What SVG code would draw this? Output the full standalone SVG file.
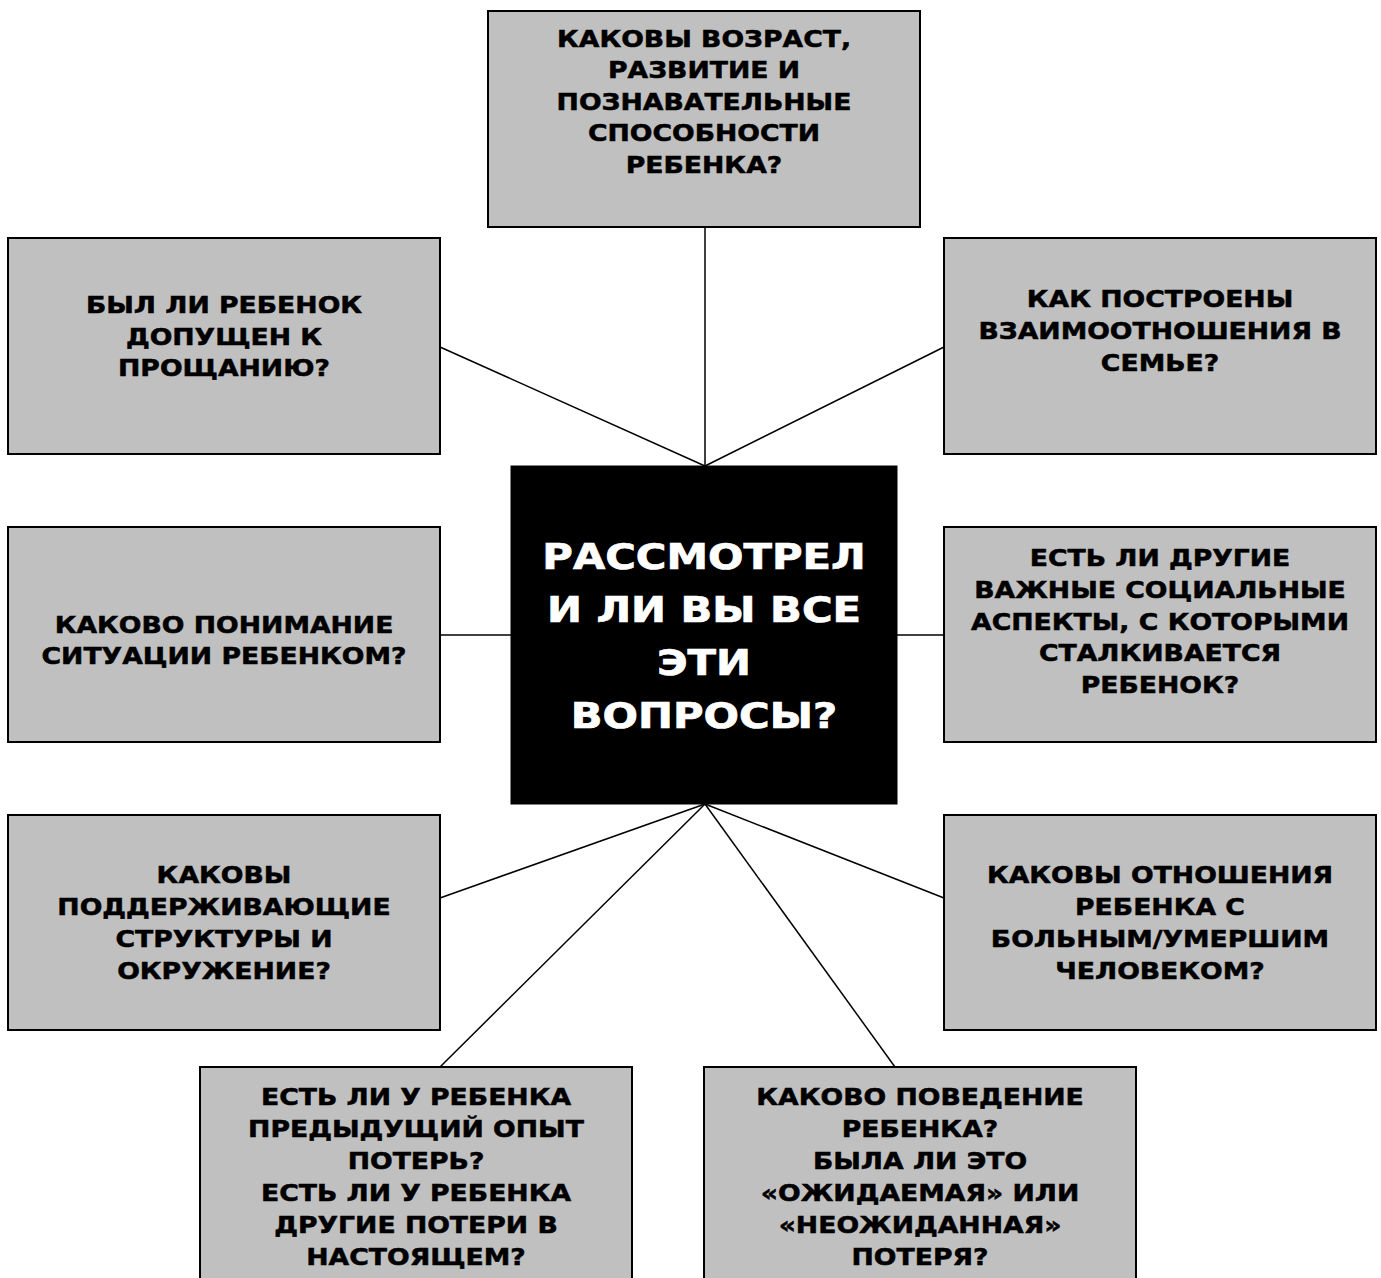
<svg xmlns="http://www.w3.org/2000/svg" width="1381" height="1278" viewBox="0 0 1381 1278">
<style>
.box{fill:#c0c0c0;stroke:#000;stroke-width:2}
.core{fill:#000;stroke:#000;stroke-width:1}
.t{font-family:"DejaVu Sans","Verdana",sans-serif;font-weight:bold;font-size:23px;fill:#000;stroke:#000;stroke-width:0.5;text-anchor:middle}
.c{font-family:"DejaVu Sans","Verdana",sans-serif;font-weight:bold;font-size:36px;fill:#fff;stroke:#fff;stroke-width:0.7;text-anchor:middle}
.ln{stroke:#000;stroke-width:1.5;fill:none}
</style>
<rect width="1381" height="1278" fill="#fff"/>
<g id="connectors">
<line class="ln" x1="705" y1="466" x2="705" y2="227"/>
<line class="ln" x1="705" y1="466" x2="440" y2="347"/>
<line class="ln" x1="705" y1="466" x2="944" y2="347"/>
<line class="ln" x1="440" y1="635" x2="511" y2="635"/>
<line class="ln" x1="897" y1="635" x2="944" y2="635"/>
<line class="ln" x1="705" y1="804" x2="440" y2="898"/>
<line class="ln" x1="705" y1="804" x2="944" y2="898"/>
<line class="ln" x1="705" y1="804" x2="440" y2="1067"/>
<line class="ln" x1="705" y1="804" x2="895" y2="1067"/>
</g>
<g id="n-top">
<rect class="box" x="488" y="11" width="432" height="216"/>
<g transform="translate(704,0) scale(1.16,1)">
<text class="t" x="0" y="47">КАКОВЫ ВОЗРАСТ,</text>
<text class="t" x="0" y="78.5">РАЗВИТИЕ И</text>
<text class="t" x="0" y="110">ПОЗНАВАТЕЛЬНЫЕ</text>
<text class="t" x="0" y="141.5">СПОСОБНОСТИ</text>
<text class="t" x="0" y="173">РЕБЕНКА?</text>
</g>
</g>
<g id="n-farewell">
<rect class="box" x="8" y="238" width="432" height="216"/>
<g transform="translate(224,0) scale(1.16,1)">
<text class="t" x="0" y="313">БЫЛ ЛИ РЕБЕНОК</text>
<text class="t" x="0" y="345">ДОПУЩЕН К</text>
<text class="t" x="0" y="376.5">ПРОЩАНИЮ?</text>
</g>
</g>
<g id="n-family">
<rect class="box" x="944" y="238" width="432" height="216"/>
<g transform="translate(1160,0) scale(1.16,1)">
<text class="t" x="0" y="307">КАК ПОСТРОЕНЫ</text>
<text class="t" x="0" y="339">ВЗАИМООТНОШЕНИЯ В</text>
<text class="t" x="0" y="371">СЕМЬЕ?</text>
</g>
</g>
<g id="n-understanding">
<rect class="box" x="8" y="527" width="432" height="215"/>
<g transform="translate(224,0) scale(1.16,1)">
<text class="t" x="0" y="633">КАКОВО ПОНИМАНИЕ</text>
<text class="t" x="0" y="664">СИТУАЦИИ РЕБЕНКОМ?</text>
</g>
</g>
<g id="n-social">
<rect class="box" x="944" y="527" width="432" height="215"/>
<g transform="translate(1160,0) scale(1.16,1)">
<text class="t" x="0" y="566">ЕСТЬ ЛИ ДРУГИЕ</text>
<text class="t" x="0" y="598">ВАЖНЫЕ СОЦИАЛЬНЫЕ</text>
<text class="t" x="0" y="630">АСПЕКТЫ, С КОТОРЫМИ</text>
<text class="t" x="0" y="661">СТАЛКИВАЕТСЯ</text>
<text class="t" x="0" y="693">РЕБЕНОК?</text>
</g>
</g>
<g id="n-center">
<rect class="core" x="511" y="466" width="386" height="338"/>
<g transform="translate(704,0) scale(1.16,1)">
<text class="c" x="0" y="569">РАССМОТРЕЛ</text>
<text class="c" x="0" y="622">И ЛИ ВЫ ВСЕ</text>
<text class="c" x="0" y="675">ЭТИ</text>
<text class="c" x="0" y="728">ВОПРОСЫ?</text>
</g>
</g>
<g id="n-support">
<rect class="box" x="8" y="815" width="432" height="215"/>
<g transform="translate(224,0) scale(1.16,1)">
<text class="t" x="0" y="883">КАКОВЫ</text>
<text class="t" x="0" y="915">ПОДДЕРЖИВАЮЩИЕ</text>
<text class="t" x="0" y="947">СТРУКТУРЫ И</text>
<text class="t" x="0" y="979">ОКРУЖЕНИЕ?</text>
</g>
</g>
<g id="n-relation">
<rect class="box" x="944" y="815" width="432" height="215"/>
<g transform="translate(1160,0) scale(1.16,1)">
<text class="t" x="0" y="883">КАКОВЫ ОТНОШЕНИЯ</text>
<text class="t" x="0" y="915">РЕБЕНКА С</text>
<text class="t" x="0" y="947">БОЛЬНЫМ/УМЕРШИМ</text>
<text class="t" x="0" y="979">ЧЕЛОВЕКОМ?</text>
</g>
</g>
<g id="n-losses">
<rect class="box" x="200" y="1067" width="432" height="230"/>
<g transform="translate(416,0) scale(1.16,1)">
<text class="t" x="0" y="1105">ЕСТЬ ЛИ У РЕБЕНКА</text>
<text class="t" x="0" y="1137">ПРЕДЫДУЩИЙ ОПЫТ</text>
<text class="t" x="0" y="1169">ПОТЕРЬ?</text>
<text class="t" x="0" y="1201">ЕСТЬ ЛИ У РЕБЕНКА</text>
<text class="t" x="0" y="1233">ДРУГИЕ ПОТЕРИ В</text>
<text class="t" x="0" y="1265">НАСТОЯЩЕМ?</text>
</g>
</g>
<g id="n-behaviour">
<rect class="box" x="704" y="1067" width="432" height="230"/>
<g transform="translate(920,0) scale(1.16,1)">
<text class="t" x="0" y="1105">КАКОВО ПОВЕДЕНИЕ</text>
<text class="t" x="0" y="1137">РЕБЕНКА?</text>
<text class="t" x="0" y="1169">БЫЛА ЛИ ЭТО</text>
<text class="t" x="0" y="1201">«ОЖИДАЕМАЯ» ИЛИ</text>
<text class="t" x="0" y="1233">«НЕОЖИДАННАЯ»</text>
<text class="t" x="0" y="1265">ПОТЕРЯ?</text>
</g>
</g>
</svg>
